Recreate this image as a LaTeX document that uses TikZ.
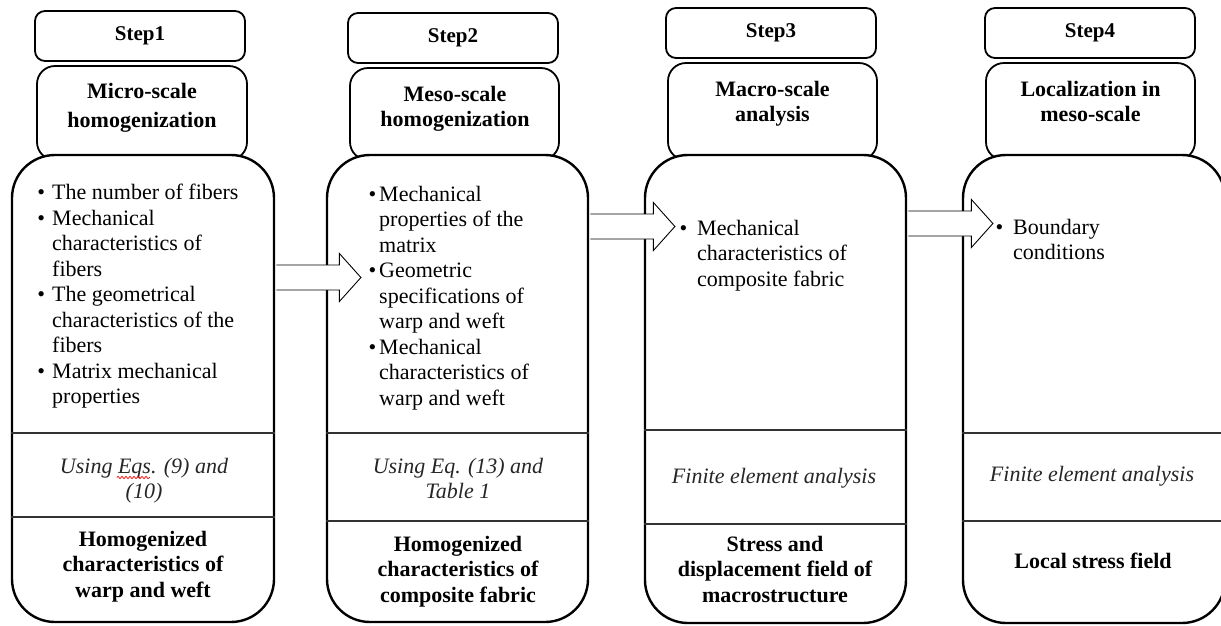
\documentclass[tikz,border=0pt]{standalone}
\usepackage{fontspec}
\setmainfont{Liberation Serif}
\usetikzlibrary{calc,decorations.pathmorphing}
\newcommand\bl[1]{\llap{\textbullet\hspace{#1}}}
\newcommand\blockarrow[1]{%
  \fill[white] (#1) ++(0,-12.5) -- ++(63,0) -- ++(0,-11.5) -- ++(21.5,24) -- ++(-21.5,24) -- ++(0,-11.5) -- ++(-63,0) -- cycle;
  \draw[line width=0.9pt, line join=miter] (#1) ++(0,-12.5) -- ++(63,0) -- ++(0,-11.5) -- ++(21.5,24) -- ++(-21.5,24) -- ++(0,-11.5) -- ++(-63,0);}
\begin{document}
\begin{tikzpicture}[x=1pt,y=-1pt,
  stepbox/.style={draw, line width=1.8pt, rounded corners=10pt, minimum width=210pt, minimum height=50pt, inner sep=0pt, font=\fontsize{21}{25}\selectfont\bfseries},
  titlebox/.style={draw, line width=1.8pt, rounded corners=18pt, fill=white, inner sep=0pt},
  bigbox/.style={draw, line width=2.4pt, rounded corners=43pt, fill=white, inner sep=0pt},
  divider/.style={line width=1.4pt, black!80},
  body/.style={font=\fontsize{22}{25.5}\selectfont, inner sep=0pt, align=left, anchor=north west},
  note/.style={font=\fontsize{22}{25.5}\selectfont\itshape, text=black!85, inner sep=0pt, align=center, anchor=north},
  result/.style={font=\fontsize{22}{25.5}\selectfont\bfseries, inner sep=0pt, align=center, anchor=north},
  spell/.style={red, line width=0.7pt, decorate, decoration={snake, segment length=4pt, amplitude=1.2pt}}]
\useasboundingbox (0,0) rectangle (1221,625);
\clip (0,0) rectangle (1221,625);

% step boxes
\node[stepbox] (S1) at (140,36) {Step1};
\node[stepbox] (S2) at (453,38) {Step2};
\node[stepbox] (S3) at (771,33) {Step3};
\node[stepbox] (S4) at (1090,33) {Step4};

% title boxes
\node[titlebox, minimum width=210pt, minimum height=94pt] (T1) at (142,113) {};
\node[titlebox, minimum width=209pt, minimum height=92pt] (T2) at (454.5,114) {};
\node[titlebox, minimum width=209pt, minimum height=97pt] (T3) at (772.5,111.5) {};
\node[titlebox, minimum width=209pt, minimum height=97pt] (T4) at (1090.5,111.5) {};

% big boxes
\node[bigbox, minimum width=262pt, minimum height=467pt] (B1) at (143,388.5) {};
\node[bigbox, minimum width=261pt, minimum height=467pt] (B2) at (457.5,388.5) {};
\node[bigbox, minimum width=261pt, minimum height=468pt] (B3) at (775.5,389) {};
\node[bigbox, minimum width=262pt, minimum height=468pt] (B4) at (1094,389) {};

% dividers
\draw[divider] (B1.west |- 0,433) -- (B1.east |- 0,433);
\draw[divider] (B1.west |- 0,517) -- (B1.east |- 0,517);
\draw[divider] (B2.west |- 0,433) -- (B2.east |- 0,433);
\draw[divider] (B2.west |- 0,521) -- (B2.east |- 0,521);
\draw[divider] (B3.west |- 0,430) -- (B3.east |- 0,430);
\draw[divider] (B3.west |- 0,524) -- (B3.east |- 0,524);
\draw[divider] (B4.west |- 0,433) -- (B4.east |- 0,433);
\draw[divider] (B4.west |- 0,521) -- (B4.east |- 0,521);

% block arrows
\coordinate (A1) at ($(B1.east |- 0,277.5)+(1.2,0)$);
\coordinate (A2) at ($(B2.east |- 0,226.5)+(1.2,0)$);
\coordinate (A3) at ($(B3.east |- 0,223.5)+(1.2,0)$);
\blockarrow{A1}
\blockarrow{A2}
\blockarrow{A3}

% titles
\node[result, font=\fontsize{22}{29}\selectfont\bfseries] (t1) at (142,83) {Micro-scale\\homogenization};
\node[result] (t2) at (455,86) {Meso-scale\\homogenization};
\node[result] (t3) at (772.5,81) {Macro-scale\\analysis};
\node[result] (t4) at (1090.5,81) {Localization in\\meso-scale};

% bullet lists
\node[body] (L1) at (52,184) {\bl{7pt}The number of fibers\\
\bl{7pt}Mechanical\\characteristics of\\fibers\\
\bl{7pt}The geometrical\\characteristics of the\\fibers\\
\bl{7pt}Matrix mechanical\\properties};
\node[body] (L2) at (379,186) {\bl{3pt}Mechanical\\properties of the\\matrix\\
\bl{3pt}Geometric\\specifications of\\warp and weft\\
\bl{3pt}Mechanical\\characteristics of\\warp and weft};
\node[body] (L3) at (697,220) {\bl{10pt}Mechanical\\characteristics of\\composite fabric};
\node[body] (L4) at (1013,219) {\bl{10pt}Boundary\\conditions};

% methods
\node[note] (N1) at (144,458) {Using Eqs. (9) and\\(10)};
\draw[spell] ($(N1.north west)+(57,19.5)$) -- ($(N1.north west)+(90,19.5)$);
\node[note] (N2) at (458,458) {Using Eq. (13) and\\Table 1};
\node[note] (N3) at (774,468) {Finite element analysis};
\node[note] (N4) at (1092,466) {Finite element analysis};

% results
\node[result] (R1) at (143,531) {Homogenized\\characteristics of\\warp and weft};
\node[result] (R2) at (458,536) {Homogenized\\characteristics of\\composite fabric};
\node[result] (R3) at (775,536) {Stress and\\displacement field of\\macrostructure};
\node[result] (R4) at (1093,553) {Local stress field};
\end{tikzpicture}
\end{document}
